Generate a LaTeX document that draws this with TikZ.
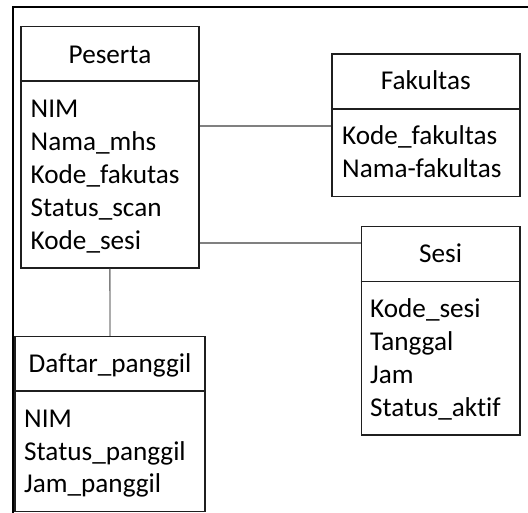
\documentclass[tikz,border=0pt]{standalone}
\usepackage{fontspec}
\setmainfont{Carlito}[Ligatures={NoCommon}]
\begin{document}
\begin{tikzpicture}[x=1pt,y=-1pt,
  entity/.style={draw=black!88, line width=1.6pt, rectangle, inner sep=0pt},
  divider/.style={draw=black!88, line width=1.6pt},
  conn/.style={draw=black!50, line width=1.3pt},
  frame/.style={draw=black, line width=1.8pt},
  ttl/.style={inner sep=0pt, anchor=base, font=\fontsize{27.2}{32}\selectfont, text=black},
  attr/.style={inner sep=0pt, anchor=base west, font=\fontsize{27.2}{32}\selectfont, text=black}]
\useasboundingbox (0,0) rectangle (528,513);
\fill[white] (0,0) rectangle (528,513);
\draw[frame] (12.7,530) -- (12.7,7.3) -- (540,7.3);

% Peserta
\node[entity, minimum width=178.3pt, minimum height=241.3pt] (peserta) at (109.85,147.35) {};
\coordinate (pdiv) at (0,81);
\draw[divider] (peserta.west |- pdiv) -- (peserta.east |- pdiv);
\node[ttl] (pt) at (110,63.3) {Peserta};
\node[attr] (p1) at (30.5,117.3) {NIM};
\node[attr] (p2) at (30.5,150.3) {Nama\_mhs};
\node[attr] (p3) at (30.5,183.3) {Kode\_fakutas};
\node[attr] (p4) at (30.5,216.3) {Status\_scan};
\node[attr] (p5) at (30.5,249.3) {Kode\_sesi};

% Fakultas
\node[entity, minimum width=188.3pt, minimum height=142.4pt] (fakultas) at (425.85,125.5) {};
\coordinate (fdiv) at (0,109);
\draw[divider] (fakultas.west |- fdiv) -- (fakultas.east |- fdiv);
\node[ttl] (ft) at (425.8,90) {Fakultas};
\node[attr] (f1) at (342,145) {Kode\_fakultas};
\node[attr] (f2) at (342,177.3) {Nama-fakultas};

% Sesi
\node[entity, minimum width=158.7pt, minimum height=208.3pt] (sesi) at (440.65,330.85) {};
\coordinate (sdiv) at (0,281.7);
\draw[divider] (sesi.west |- sdiv) -- (sesi.east |- sdiv);
\node[ttl] (st) at (440.6,262.7) {Sesi};
\node[attr] (s1) at (370,317.7) {Kode\_sesi};
\node[attr] (s2) at (370,350.3) {Tanggal};
\node[attr] (s3) at (370,383.3) {Jam};
\node[attr] (s4) at (370,416) {Status\_aktif};

% Daftar_panggil
\node[entity, minimum width=190pt, minimum height=174.6pt] (daftar) at (110,424) {};
\coordinate (ddiv) at (0,391);
\draw[divider] (daftar.west |- ddiv) -- (daftar.east |- ddiv);
\node[ttl] (dt) at (110,372.7) {Daftar\_panggil};
\node[attr] (d1) at (24,427.3) {NIM};
\node[attr] (d2) at (24,460) {Status\_panggil};
\node[attr] (d3) at (24,492.7) {Jam\_panggil};

% connectors
\coordinate (c1) at (0,126);
\coordinate (c2) at (0,243);
\draw[conn] (peserta.east |- c1) -- (fakultas.west |- c1);
\draw[conn] (peserta.east |- c2) -- (sesi.west |- c2);
\draw[conn] (peserta.south) -- (daftar.north);
\end{tikzpicture}
\end{document}
